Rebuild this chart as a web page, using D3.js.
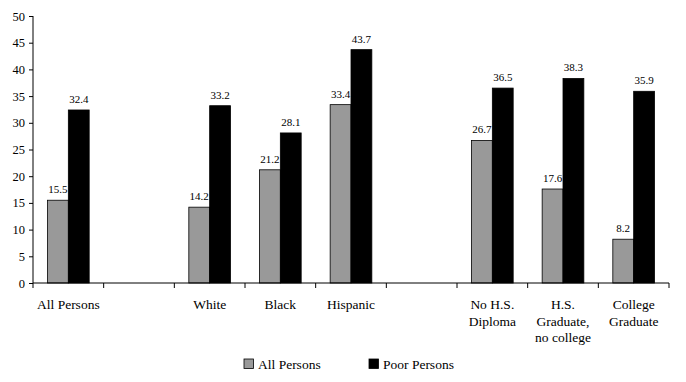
<!DOCTYPE html>
<html><head><meta charset="utf-8">
<script src="https://cdn.jsdelivr.net/npm/d3@7"></script>
<style>
html,body{margin:0;padding:0;background:#fff;}
svg{display:block;font-family:"Liberation Serif","Times New Roman",serif;}
</style></head>
<body>
<svg id="c" width="686" height="382"></svg>
<script>
const categories = ["All Persons", "", "White", "Black", "Hispanic", "", "No H.S.\nDiploma", "H.S.\nGraduate,\nno college", "College\nGraduate"];
const allPersons = [15.5, null, 14.2, 21.2, 33.4, null, 26.7, 17.6, 8.2];
const poorPersons = [32.4, null, 33.2, 28.1, 43.7, null, 36.5, 38.3, 35.9];
const seriesNames = ["All Persons", "Poor Persons"];
const seriesColors = ["#999999", "#000000"];
const yTicks = [0, 5, 10, 15, 20, 25, 30, 35, 40, 45, 50];

(function () {
const svg = d3.select("#c");
const mLeft = 33, mRight = 669, mTop = 16, mBottom = 283;

const x = d3.scaleBand().domain(d3.range(categories.length)).range([mLeft, mRight]).padding(0);
const inner = d3.scaleBand().domain([0, 1]).range([x.bandwidth()*0.205, x.bandwidth()*0.795]).padding(0);
const y = d3.scaleLinear().domain([0, 50]).range([mBottom, mTop]);

// y axis
const yAxis = d3.axisLeft(y).tickValues(yTicks).tickSize(4).tickPadding(4).tickFormat(d3.format("d"));
const gy = svg.append("g").attr("transform", `translate(${mLeft},0)`).call(yAxis);
gy.select(".domain").attr("d", `M0,${mTop}V${mBottom}`).attr("stroke", "#000");
gy.selectAll(".tick line").attr("stroke", "#000");
gy.selectAll(".tick text").attr("font-family", "Liberation Serif").attr("font-size", "12.5px").attr("fill", "#000");

// data rows
const data = [];
categories.forEach((c, i) => {
  [allPersons[i], poorPersons[i]].forEach((v, s) => {
    if (v != null) data.push({i, s, v});
  });
});

// value labels (drawn beneath bars, as in the reference)
svg.append("g").selectAll("text").data(data).join("text")
  .attr("x", d => x(d.i) + inner(d.s) + inner.bandwidth()/2)
  .attr("y", d => y(d.v) - 7)
  .attr("text-anchor", "middle")
  .attr("font-size", "11px")
  .attr("fill", "#000")
  .text(d => d.v.toFixed(1));

svg.append("g").selectAll("rect").data(data).join("rect")
  .attr("x", d => x(d.i) + inner(d.s))
  .attr("y", d => y(d.v))
  .attr("width", inner.bandwidth())
  .attr("height", d => y(0) - y(d.v))
  .attr("fill", d => seriesColors[d.s])
  .attr("stroke", "#000")
  .attr("stroke-width", 0.8);

// x axis
const xg = svg.append("g");
xg.append("line").attr("x1", mLeft).attr("x2", mRight).attr("y1", mBottom).attr("y2", mBottom).attr("stroke", "#000");
const bounds = d3.range(categories.length + 1).map(i => i < categories.length ? x(i) : mRight);
xg.selectAll("line.t").data(bounds).join("line").attr("class", "t")
  .attr("x1", d => d).attr("x2", d => d).attr("y1", mBottom).attr("y2", mBottom + 5).attr("stroke", "#000");

const lab = xg.selectAll("text").data(categories).join("text")
  .attr("x", (d, i) => x(i) + x.bandwidth()/2)
  .attr("y", 309)
  .attr("text-anchor", "middle")
  .attr("font-size", "13.5px")
  .attr("fill", "#000");
lab.each(function(d) {
  const t = d3.select(this);
  d.split("\n").forEach((line, k) => {
    t.append("tspan").attr("x", t.attr("x")).attr("dy", k === 0 ? 0 : 16.5).text(line);
  });
});

// legend
const legendX = [244, 369];
const lg = svg.append("g");
seriesNames.forEach((n, s) => {
  lg.append("rect").attr("x", legendX[s]).attr("y", 359).attr("width", 9.5).attr("height", 9.5)
    .attr("fill", seriesColors[s]).attr("stroke", "#000").attr("stroke-width", 0.8);
  lg.append("text").attr("x", legendX[s] + 14).attr("y", 368.5).attr("font-size", "13.5px").attr("fill", "#000").text(n);
});
})();
</script>
</body></html>
